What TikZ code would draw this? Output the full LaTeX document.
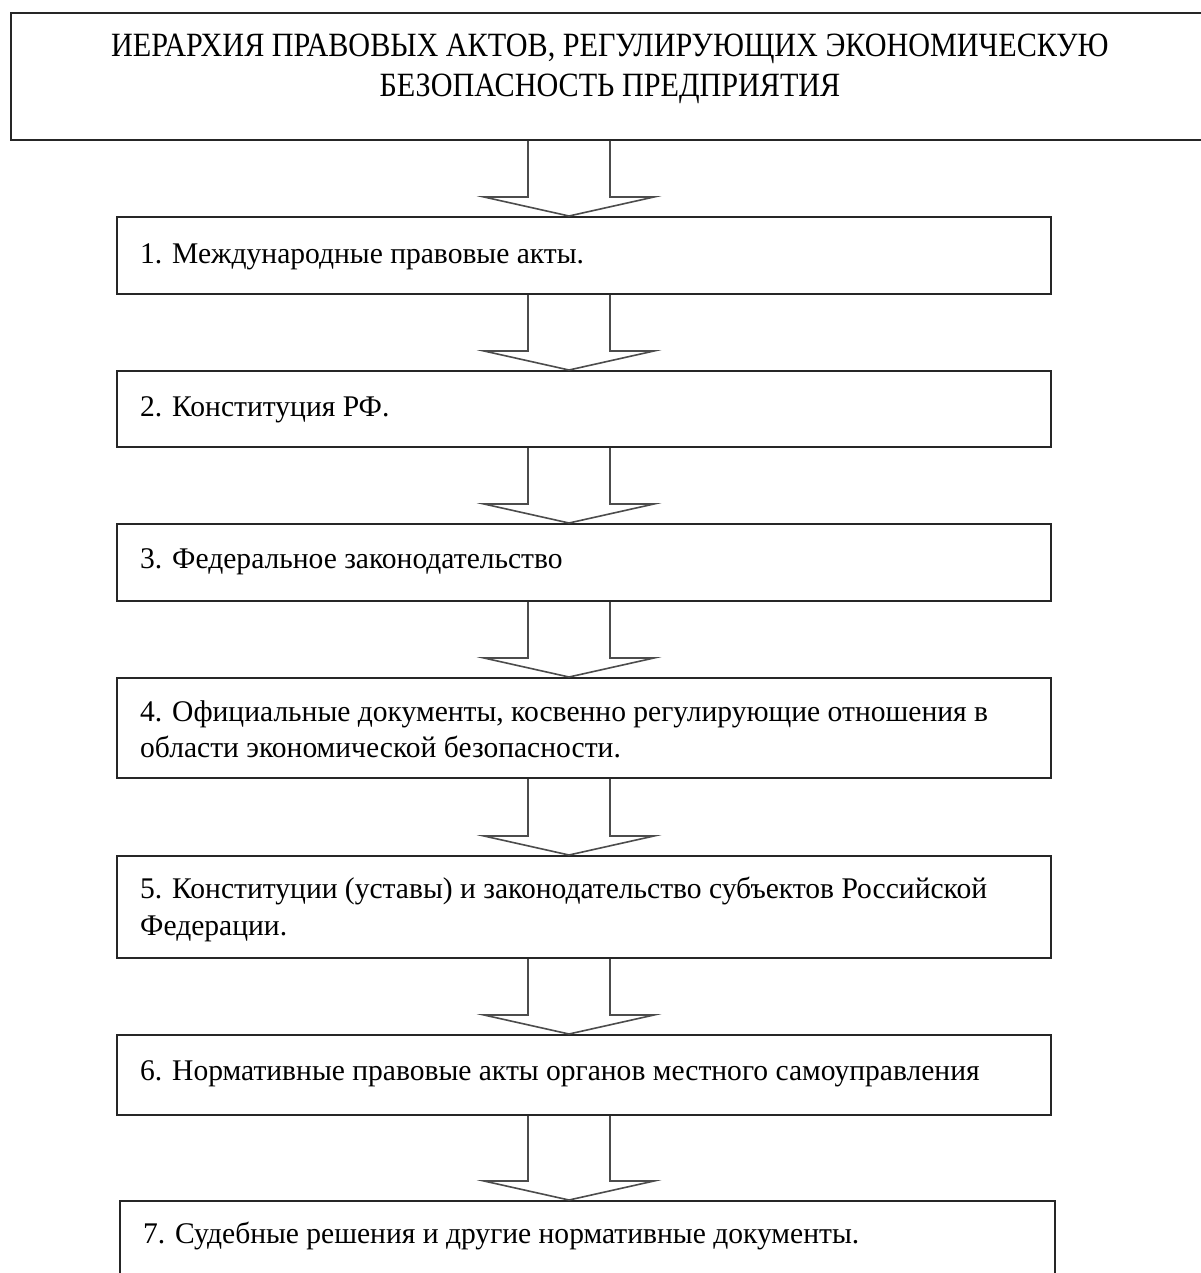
\documentclass[tikz,border=0pt]{standalone}
\usepackage{fontspec}
\setmainfont[FakeStretch=0.985]{Liberation Serif}
\newfontfamily\titlefont[FakeStretch=0.887]{Liberation Serif}
\usetikzlibrary{calc}
\tikzset{
  box/.style={draw=black!85, line width=2pt, inner sep=0pt, anchor=north west, fill=white},
  txt/.style={anchor=base west, inner sep=0pt, font=\fontsize{30}{36}\selectfont},
  ttl/.style={anchor=base, inner sep=0pt, font=\titlefont\fontsize{34}{40}\selectfont},
  harrow/.style={draw=black!70, line width=1.6pt, line join=miter},
}
\newcommand{\holarrow}[2]{%
  \draw[harrow] (sl |- #1.south) -- ($(sl |- #2.north)+(0,-19)$) -- ($(hl |- #2.north)+(0,-19)$)
     -- (tp |- #2.north) -- ($(hr |- #2.north)+(0,-19)$) -- ($(sr |- #2.north)+(0,-19)$) -- (sr |- #1.south);}
\begin{document}
\begin{tikzpicture}[x=1pt,y=-1pt]
\useasboundingbox (0,0) rectangle (1200,1273);
\fill[white] (0,0) rectangle (1200,1273);
\coordinate (sl) at (528,0);
\coordinate (sr) at (610,0);
\coordinate (hl) at (484,0);
\coordinate (hr) at (654,0);
\coordinate (tp) at (569,0);

\node[box, minimum width=1192pt, minimum height=127pt] (top) at (10,12) {};
\node[ttl] (t1) at (610,57) {ИЕРАРХИЯ ПРАВОВЫХ АКТОВ, РЕГУЛИРУЮЩИХ ЭКОНОМИЧЕСКУЮ};
\node[ttl] (t2) at (610,97) {БЕЗОПАСНОСТЬ ПРЕДПРИЯТИЯ};

\node[box, minimum width=934pt, minimum height=77pt] (b1) at (116,216) {};
\node[txt] (l1) at (140,263) {1. Международные правовые акты.};

\node[box, minimum width=934pt, minimum height=76pt] (b2) at (116,370) {};
\node[txt] (l2) at (140,416) {2. Конституция РФ.};

\node[box, minimum width=934pt, minimum height=77pt] (b3) at (116,523) {};
\node[txt] (l3) at (140,568) {3. Федеральное законодательство};

\node[box, minimum width=934pt, minimum height=100pt] (b4) at (116,677) {};
\node[txt] (l4a) at (140,721) {4. Официальные документы, косвенно регулирующие отношения в};
\node[txt] (l4b) at (140,757) {области экономической безопасности.};

\node[box, minimum width=934pt, minimum height=102pt] (b5) at (116,855) {};
\node[txt] (l5a) at (140,898) {5. Конституции (уставы) и законодательство субъектов Российской};
\node[txt] (l5b) at (140,935) {Федерации.};

\node[box, minimum width=934pt, minimum height=80pt] (b6) at (116,1034) {};
\node[txt] (l6) at (140,1080) {6. Нормативные правовые акты органов местного самоуправления};

\node[box, minimum width=935pt, minimum height=100pt] (b7) at (119,1200) {};
\node[txt] (l7) at (143,1243) {7. Судебные решения и другие нормативные документы.};

\holarrow{top}{b1}
\holarrow{b1}{b2}
\holarrow{b2}{b3}
\holarrow{b3}{b4}
\holarrow{b4}{b5}
\holarrow{b5}{b6}
\holarrow{b6}{b7}
\end{tikzpicture}
\end{document}
